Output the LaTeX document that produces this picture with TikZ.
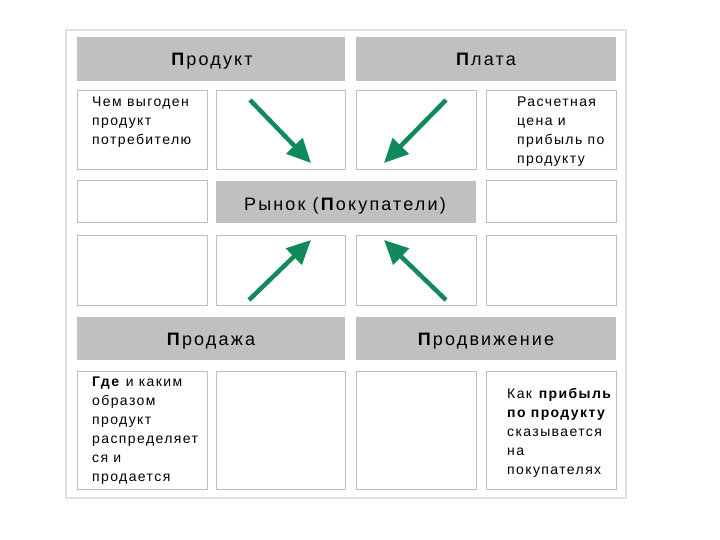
\documentclass[tikz,border=0pt]{standalone}
\usepackage{fontspec}
\setmainfont{Liberation Sans}
\newfontfamily\hdrfont[LetterSpace=12]{Liberation Sans}
\newfontfamily\bodyfont[LetterSpace=10]{Liberation Sans}
\usetikzlibrary{arrows.meta}
\definecolor{hdr}{RGB}{192,192,192}
\definecolor{cellline}{RGB}{190,190,190}
\definecolor{frameline}{RGB}{225,225,225}
\definecolor{arrgreen}{RGB}{16,138,88}
\begin{document}
\begin{tikzpicture}[x=1pt,y=-1pt,
  cellbox/.style={draw=cellline,line width=1pt,fill=white},
  hdrbox/.style={fill=hdr},
  hdrtext/.style={font=\hdrfont\fontsize{18}{20}\selectfont,inner sep=0pt},
  bodytext/.style={font=\bodyfont\fontsize{14}{19}\selectfont,align=left,anchor=north west,inner sep=0pt},
  greenarrow/.style={draw=arrgreen,line width=4.5pt,-{Triangle[length=24pt,width=22pt]}}]
\useasboundingbox (0,0) rectangle (720,540);
\fill[white] (0,0) rectangle (720,540);
% outer frame
\draw[frameline,line width=1.2pt] (66,30) rectangle (626,498);
% headers
\fill[hdrbox] (77,37) rectangle (345,81);
\fill[hdrbox] (356,37) rectangle (616,81);
\fill[hdrbox] (216,181) rectangle (476,223);
\fill[hdrbox] (77,317) rectangle (345,360);
\fill[hdrbox] (356,317) rectangle (616,360);
% row 2
\draw[cellbox] (77,91) rectangle (207,170);
\draw[cellbox] (216,91) rectangle (345,170);
\draw[cellbox] (356,91) rectangle (476,170);
\draw[cellbox] (486,91) rectangle (616,170);
% row 3
\draw[cellbox] (77,181) rectangle (207,223);
\draw[cellbox] (486,181) rectangle (616,223);
% row 4
\draw[cellbox] (77,235) rectangle (207,305);
\draw[cellbox] (216,235) rectangle (345,305);
\draw[cellbox] (356,235) rectangle (476,305);
\draw[cellbox] (486,235) rectangle (616,305);
% row 6
\draw[cellbox] (77,371) rectangle (207,489);
\draw[cellbox] (216,371) rectangle (345,489);
\draw[cellbox] (356,371) rectangle (476,489);
\draw[cellbox] (486,371) rectangle (616,489);
% header texts
\node[hdrtext] (prod) at (212,61) {\textbf{П}родукт};
\node[hdrtext] (plata) at (486,59) {\textbf{П}лата};
\node[hdrtext] (market) at (345,206) {Рынок (\textbf{П}окупатели)};
\node[hdrtext] (sale) at (211,341) {\textbf{П}родажа};
\node[hdrtext] (promo) at (486,341) {\textbf{П}родвижение};
% body texts
\node[bodytext] (t1) at (92,97) {Чем выгоден\\продукт\\потребителю};
\node[bodytext] (t2) at (517,97) {Расчетная\\цена и\\прибыль по\\продукту};
\node[bodytext] (t3) at (92,377) {\textbf{Где} и каким\\образом\\продукт\\распределяет\\ся и\\продается};
\node[bodytext] (t4) at (507,388) {Как \textbf{прибыль}\\\textbf{по продукту}\\сказывается\\на\\покупателях};
% arrows
\coordinate (a1s) at (250,100); \coordinate (a1e) at (311,163);
\coordinate (a2s) at (446,100); \coordinate (a2e) at (384,163);
\coordinate (a3s) at (249,300); \coordinate (a3e) at (311,240);
\coordinate (a4s) at (446,300); \coordinate (a4e) at (384,240);
\draw[greenarrow] (a1s) -- (a1e);
\draw[greenarrow] (a2s) -- (a2e);
\draw[greenarrow] (a3s) -- (a3e);
\draw[greenarrow] (a4s) -- (a4e);
\end{tikzpicture}
\end{document}
